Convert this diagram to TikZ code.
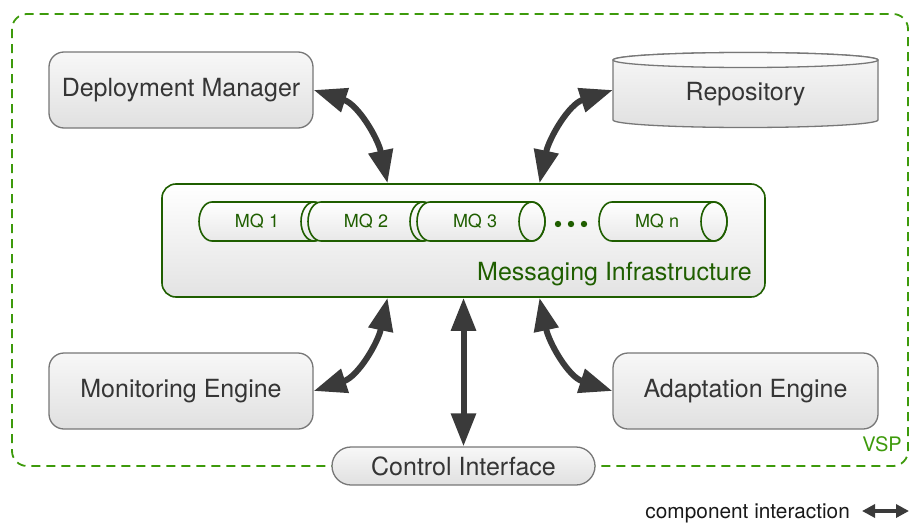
\documentclass[tikz,border=0pt]{standalone}
\usepackage{fontspec}
\setmainfont{TeX Gyre Heros}
\usetikzlibrary{arrows.meta}

\definecolor{vspgreen}{HTML}{3D9A0B}
\definecolor{mqgreen}{HTML}{1F5E00}
\definecolor{boxgray}{HTML}{777777}
\definecolor{txtgray}{HTML}{353535}
\definecolor{arrgray}{HTML}{3A3A3A}

\tikzset{
  comp/.style={draw=boxgray, line width=1.3pt, rounded corners=15pt,
    top color=white!97!black, bottom color=black!12, text=txtgray,
    font=\fontsize{25}{29}\selectfont, inner sep=0pt,
    minimum width=264pt, minimum height=76pt},
  pipe/.style={draw=mqgreen, line width=1.6pt},
  mqlabel/.style={text=mqgreen, font=\fontsize{18}{20}\selectfont, inner sep=0pt},
  link/.style={draw=arrgray, line width=6pt,
    {Triangle[length=33pt,width=24pt]}-{Triangle[length=33pt,width=24pt]}},
}

\begin{document}
\begin{tikzpicture}[x=1pt, y=-1pt]
  \useasboundingbox (0,0) rectangle (910,522);

  % platform boundary
  \draw[vspgreen, line width=1.8pt, dash pattern=on 9pt off 6pt, rounded corners=15pt] (12,14) rectangle (908,466);
  \node[text=vspgreen, font=\fontsize{20}{22}\selectfont, inner sep=0pt, anchor=east] (vsp) at (902,444.5) {VSP};

  % components
  \node[comp] (dm) at (181,90) {Deployment Manager};
  \node[comp] (me) at (181,391) {Monitoring Engine};
  \node[comp, minimum width=265pt] (ae) at (745.5,391) {Adaptation Engine};
  \node[comp, rounded corners=19pt, minimum width=263pt, minimum height=38pt] (ci) at (463.5,466) {Control Interface};

  % repository drum
  \draw[draw=boxgray, line width=1.3pt, top color=white!97!black, bottom color=black!12]
    (613,60) -- (613,120) arc[start angle=180, end angle=0, x radius=132.5, y radius=7.5]
    -- (878,60) arc[start angle=0, end angle=-180, x radius=132.5, y radius=7.5] -- cycle;
  \draw[draw=boxgray, line width=1.3pt, fill=white!98!black] (745.5,60) ellipse [x radius=132.5, y radius=7.5];
  \node[text=txtgray, font=\fontsize{25}{29}\selectfont, inner sep=0pt,
    minimum width=265pt, minimum height=60pt] (repo) at (745.5,94) {Repository};

  % messaging infrastructure with its queues
  \node[draw=mqgreen, line width=1.6pt, rounded corners=14pt, top color=white, bottom color=black!11,
    minimum width=603pt, minimum height=113pt] (mi) at (463.5,240.5) {};
  \node[text=mqgreen, font=\fontsize{25}{29}\selectfont, inner sep=0pt, anchor=base east] (milabel) at (752,280) {Messaging Infrastructure};

  \foreach \x/\lab [count=\i] in {212/MQ 1, 321/MQ 2, 430/MQ 3, 612/MQ n} {
    \draw[pipe, top color=white, bottom color=black!9]
      (\x+102,202) -- (\x,202) arc[start angle=270, end angle=90, x radius=13, y radius=19.5]
      -- (\x+102,241) arc[start angle=90, end angle=-90, x radius=13, y radius=19.5] -- cycle;
    \draw[pipe] (\x+102,221.5) ellipse [x radius=13, y radius=19.5];
    \node[mqlabel] (mq\i) at (\x+45,221.5) {\lab};
  }
  \foreach \x in {558,571,584}
    \fill[mqgreen] (\x,224) circle (3.2);

  % interactions
  \draw[link] (dm.east) to[out=-18, in=102] ([xshift=-76pt]mi.north);
  \draw[link] ([yshift=4pt]repo.west) to[out=198, in=78] ([xshift=76pt]mi.north);
  \draw[link] (me.east) to[out=18, in=-102] ([xshift=-76pt]mi.south);
  \draw[link] (ae.west) to[out=162, in=-78] ([xshift=76pt]mi.south);
  \draw[link] (mi.south) -- (ci.north);

  % legend
  \node[font=\fontsize{20.8}{24}\selectfont, text=black!90, inner sep=0pt, anchor=base east] (legend) at (850,518) {component interaction};
  \coordinate (lgA) at (862,511);
  \coordinate (lgB) at (909,511);
  \draw[draw=arrgray, line width=3.5pt, {Triangle[length=13pt,width=13pt]}-{Triangle[length=13pt,width=13pt]}] (lgA) -- (lgB);
\end{tikzpicture}
\end{document}
